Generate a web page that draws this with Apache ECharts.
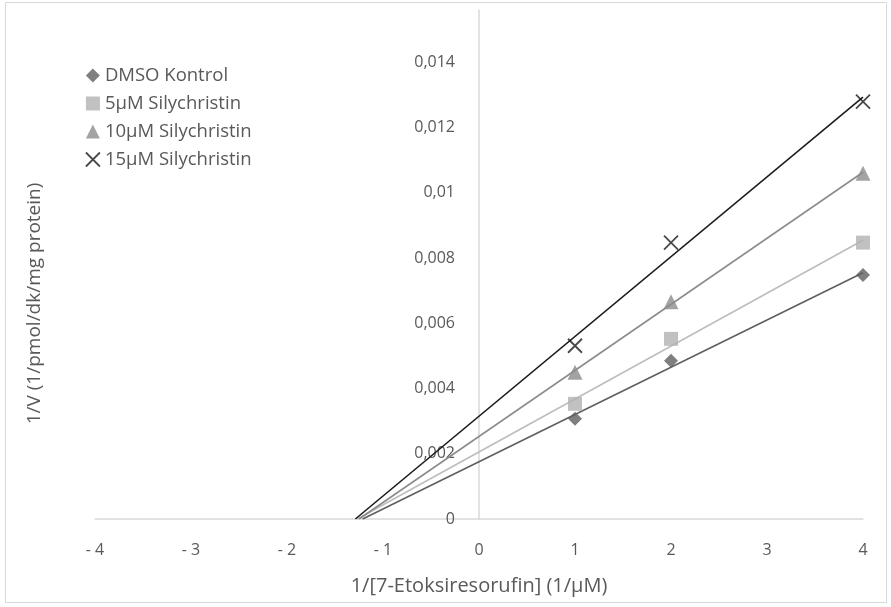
<!DOCTYPE html>
<html>
<head>
<meta charset="utf-8">
<script src="https://cdn.jsdelivr.net/npm/echarts@6/dist/echarts.min.js"></script>
<style>
  html, body { margin: 0; padding: 0; background: #fff; }
  #chart { width: 891px; height: 607px; }
</style>
</head>
<body>
<div id="chart"></div>
<script>
// Lineweaver-Burk plot: 1/V against 1/[substrate]
const xValues = [1, 2, 4];
const seriesNames = ['DMSO Kontrol', '5µM Silychristin', '10µM Silychristin', '15µM Silychristin'];
const dmsoKontrol = [0.00307, 0.00485, 0.00748];
const silychristin5 = [0.00353, 0.00552, 0.00847];
const silychristin10 = [0.00450, 0.00666, 0.01060];
const silychristin15 = [0.00531, 0.00847, 0.01279];
const xTicks = [-4, -3, -2, -1, 0, 1, 2, 3, 4];

const allValues = [dmsoKontrol, silychristin5, silychristin10, silychristin15];
const colors = ['#5f5f5f', '#b2b2b2', '#8c8c8c', '#1c1c1c'];
const lineColors = ['#5f5f5f', '#bdbdbd', '#8c8c8c', '#1c1c1c'];
const symbols = ['diamond', 'rect', 'triangle', 'path://M0,0L10,10M10,0L0,10'];
const symbolSizes = [14, 14, 15, 14];

// least-squares linear trend for each set, drawn from its x-intercept out to the last x
function linearFit(xs, ys) {
  const n = xs.length;
  const mx = xs.reduce((a, b) => a + b, 0) / n;
  const my = ys.reduce((a, b) => a + b, 0) / n;
  let sxy = 0, sxx = 0;
  for (let i = 0; i < n; i++) {
    sxy += (xs[i] - mx) * (ys[i] - my);
    sxx += (xs[i] - mx) * (xs[i] - mx);
  }
  const slope = sxy / sxx;
  return { slope, intercept: my - slope * mx };
}

const series = [];
allValues.forEach((vals, i) => {
  const fit = linearFit(xValues, vals);
  const xStart = -fit.intercept / fit.slope;
  const xEnd = xValues[xValues.length - 1];
  series.push({
    name: seriesNames[i] + ' trend',
    type: 'line',
    data: [[xStart, 0], [xEnd, fit.intercept + fit.slope * xEnd]],
    showSymbol: false,
    symbol: 'none',
    silent: true,
    lineStyle: { color: lineColors[i], width: 1.6 },
    z: 2
  });
});
allValues.forEach((vals, i) => {
  const isCross = i === 3;
  series.push({
    name: seriesNames[i],
    type: 'scatter',
    data: xValues.map((x, k) => [x, vals[k]]),
    symbol: symbols[i],
    symbolSize: symbolSizes[i],
    itemStyle: isCross
      ? { color: 'rgba(0,0,0,0)', borderColor: colors[i], borderWidth: 1.8 }
      : { color: colors[i] },
    z: 3
  });
});

const gridLeft = 95, gridRight = 28;
const plotWidth = 891 - gridLeft - gridRight;
// the value axis sits at x = 0, which is the middle of the symmetric x range
const yAxisShift = -plotWidth * (0 - xTicks[0]) / (xTicks[xTicks.length - 1] - xTicks[0]);

const chart = echarts.init(document.getElementById('chart'));
chart.setOption({
  animation: false,
  textStyle: { fontFamily: 'Open Sans' },
  graphic: [{
    type: 'rect',
    shape: { x: 5.5, y: 2.5, width: 881, height: 600 },
    style: { fill: 'none', stroke: '#d9d9d9', lineWidth: 1 },
    silent: true
  }, {
    type: 'text',
    left: 25,
    top: 'middle',
    rotation: Math.PI / 2,
    style: {
      text: '1/V (1/pmol/dk/mg protein)',
      fill: '#595959',
      font: '19px "Open Sans"'
    },
    silent: true
  }],
  grid: { left: gridLeft, right: gridRight, top: 10, bottom: 88, containLabel: false, outerBoundsMode: 'none' },
  legend: {
    orient: 'vertical',
    left: 85,
    top: 66,
    padding: 0,
    itemGap: 9,
    itemWidth: 14,
    itemHeight: 14,
    textStyle: { color: '#595959', fontSize: 18.5, fontFamily: 'Open Sans' },
    data: seriesNames.map((n, i) => ({
      name: n,
      icon: symbols[i],
      itemStyle: i === 3
        ? { color: 'rgba(0,0,0,0)', borderColor: colors[i], borderWidth: 1.8 }
        : { color: colors[i] }
    }))
  },
  xAxis: {
    type: 'value',
    min: xTicks[0],
    max: xTicks[xTicks.length - 1],
    interval: 1,
    name: '1/[7-Etoksiresorufin] (1/µM)',
    nameLocation: 'middle',
    nameGap: 57,
    nameTextStyle: { color: '#595959', fontSize: 20 },
    axisLine: { onZero: false, lineStyle: { color: '#d9d9d9', width: 1.5 } },
    axisTick: { show: false },
    splitLine: { show: false },
    axisLabel: {
      color: '#595959',
      fontSize: 16,
      margin: 23,
      formatter: v => (v < 0 ? '- ' + Math.abs(v) : String(v))
    }
  },
  yAxis: {
    type: 'value',
    position: 'left',
    offset: yAxisShift,
    min: 0,
    max: 0.0156,
    interval: 0.002,
    axisLine: { show: true, onZero: false, lineStyle: { color: '#d9d9d9', width: 1.5 } },
    axisTick: { show: false },
    splitLine: { show: false },
    axisLabel: {
      color: '#595959',
      fontSize: 16,
      margin: 24,
      formatter: v => {
        const m = Math.round(v * 1e6);
        if (m % 2000 !== 0) return '';
        return String(+(m / 1e6).toFixed(4)).replace('.', ',');
      }
    }
  },
  series: series
});
</script>
</body>
</html>
